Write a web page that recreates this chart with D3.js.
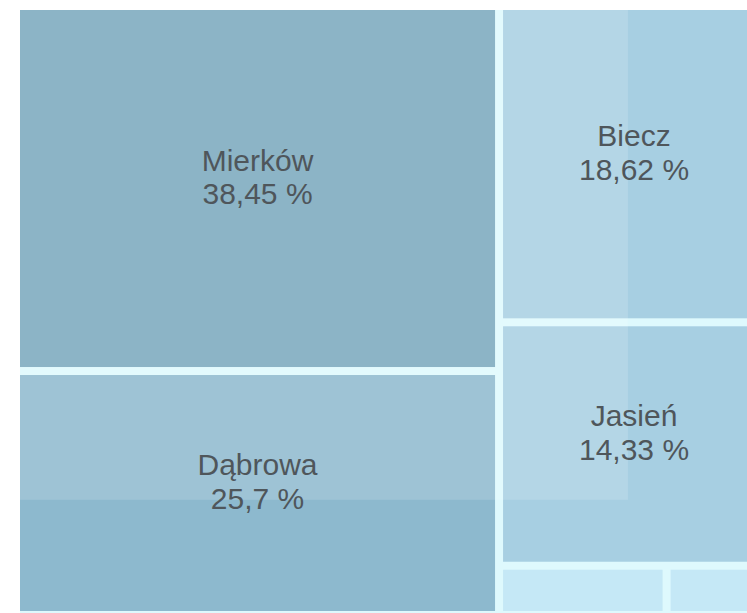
<!DOCTYPE html>
<html>
<head>
<meta charset="utf-8">
<script src="https://cdn.jsdelivr.net/npm/d3@7"></script>
<style>
  body { margin: 0; background: #fff; }
  svg { display: block; }
  text { font-family: "Liberation Sans", Arial, sans-serif; }
</style>
</head>
<body>
<div id="chart"></div>
<script>
// Data
const names = ["Mierków", "Dąbrowa", "Biecz", "Jasień", "Inne 1", "Inne 2"];
const shares = [38.45, 25.7, 18.62, 14.33, 1.8, 1.1];
const palette = ["#78a7bd", "#8db9ce", "#a7cfe2", "#a7cfe2", "#c5e8f6", "#c5e8f6"];

const width = 747, height = 613;
const box = {left: 20, top: 10, right: 765, bottom: 611};

const svg = d3.select("#chart")
    .append("svg")
    .attr("width", width)
    .attr("height", height);

const color = d3.scaleOrdinal(names, palette);
const fmt = v => String(v).replace(".", ",") + " %";

const root = d3.hierarchy({children: names.map((n, i) => ({name: n, value: shares[i]}))})
    .sum(d => d.value || 0);

d3.treemap()
    .tile(d3.treemapSquarify)
    .size([box.right - box.left, box.bottom - box.top])
    .paddingInner(8)(root);

const g = svg.append("g").attr("transform", `translate(${box.left},${box.top})`);

// gap colour behind the cells
g.append("rect")
    .attr("width", box.right - box.left)
    .attr("height", box.bottom - box.top + 2)
    .attr("fill", "#def9fd");

const cell = g.selectAll("g.cell")
    .data(root.leaves())
    .enter().append("g")
    .attr("class", "cell")
    .attr("transform", d => `translate(${d.x0},${d.y0})`);

cell.append("rect")
    .attr("width", d => d.x1 - d.x0)
    .attr("height", d => d.y1 - d.y0)
    .attr("fill", d => color(d.data.name));

// pale highlight box left over in the top-left part
g.append("rect")
    .attr("width", (box.right - box.left) * 0.816)
    .attr("height", (box.bottom - box.top) * 0.815)
    .attr("fill", "#fff")
    .attr("opacity", 0.15);

const lab = g.selectAll("text.lab")
    .data(root.leaves().filter(d => d.y1 - d.y0 > 80))
    .enter().append("text")
    .attr("class", "lab")
    .attr("x", d => (d.x0 + d.x1) / 2)
    .attr("y", d => (d.y0 + d.y1) / 2)
    .attr("text-anchor", "middle")
    .attr("font-size", 30)
    .attr("fill", "#4f565b");

lab.append("tspan")
    .attr("x", d => (d.x0 + d.x1) / 2)
    .attr("dy", "-0.6em")
    .text(d => d.data.name);

lab.append("tspan")
    .attr("x", d => (d.x0 + d.x1) / 2)
    .attr("dy", "1.13em")
    .text(d => fmt(d.data.value));
</script>
</body>
</html>
